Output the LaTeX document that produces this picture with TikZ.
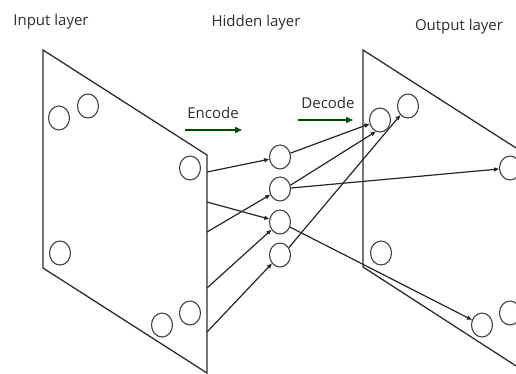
\documentclass[tikz,border=0pt]{standalone}
\usepackage{fontspec}
\setmainfont{Open Sans}
\usetikzlibrary{arrows.meta,shapes.geometric}
\begin{document}
\begin{tikzpicture}[x=1pt,y=-1pt,
  plane/.style={draw=black!82, line width=1.3pt, line join=miter},
  unit/.style={ellipse, draw=black!75, line width=1.1pt, minimum width=21pt, minimum height=24pt, inner sep=0pt},
  link/.style={draw=black!85, line width=1.2pt, -{Triangle[length=5pt,width=4pt]}},
  flow/.style={draw=green!30!black, line width=1.5pt, -{Triangle[length=7pt,width=6pt]}},
  caption/.style={font=\fontsize{15}{18}\selectfont, text=black!82, inner sep=0pt}
]
\useasboundingbox (0,0) rectangle (516,373);
\clip (0,0) rectangle (516,373);

% layer titles
\node[caption] (tin)  at (51,22)  {Input layer};
\node[caption] (thid) at (256,23) {Hidden layer};
\node[caption] (tout) at (459,27) {Output layer};

% input and output planes
\draw[plane] (43,268) -- (43,50) -- (207,155) -- (207,373) -- cycle;
\draw[plane] (363,267) -- (363,50) -- (527,155) -- (527,373) -- cycle;

% input units
\node[unit] (i1) at (59,118) {};
\node[unit] (i2) at (88,106) {};
\node[unit] (i3) at (190,168) {};
\node[unit] (i4) at (60,253) {};
\node[unit] (i5) at (162,325) {};
\node[unit] (i6) at (190,313) {};

% output units
\node[unit] (o1) at (380,120) {};
\node[unit] (o2) at (408,106) {};
\node[unit] (o3) at (510,168) {};
\node[unit] (o4) at (381,253) {};
\node[unit] (o5) at (482,325) {};
\node[unit] (o6) at (510,313) {};

% hidden units
\node[unit] (h1) at (280,157) {};
\node[unit] (h2) at (280,189) {};
\node[unit] (h3) at (280,222) {};
\node[unit] (h4) at (280,255) {};

% points on the input plane where the links leave
\coordinate (e1) at (207,172);
\coordinate (e2) at (207,202);
\coordinate (e3) at (207,232);
\coordinate (e4) at (207,288);
\coordinate (e5) at (207,332);

% encoding links
\draw[link] (e1) -- (h1);
\draw[link] (e2) -- (h3);
\draw[link] (e3) -- (h2);
\draw[link] (e4) -- (h3);
\draw[link] (e5) -- (h4);

% decoding links
\draw[link] (h1) -- (o1);
\draw[link] (h2.20) -- (o1.250);
\draw[link] (h4.40) -- (o2);
\draw[link] (h2) -- (o3);
\draw[link] (h3) -- (o5);

% encode / decode arrows
\node[caption] (enc) at (213,113) {Encode};
\node[caption] (dec) at (328,103) {Decode};
\coordinate (encA) at (185,130);
\coordinate (encB) at (242,130);
\coordinate (decA) at (298,120);
\coordinate (decB) at (353,120);
\draw[flow] (encA) -- (encB);
\draw[flow] (decA) -- (decB);
\end{tikzpicture}
\end{document}
